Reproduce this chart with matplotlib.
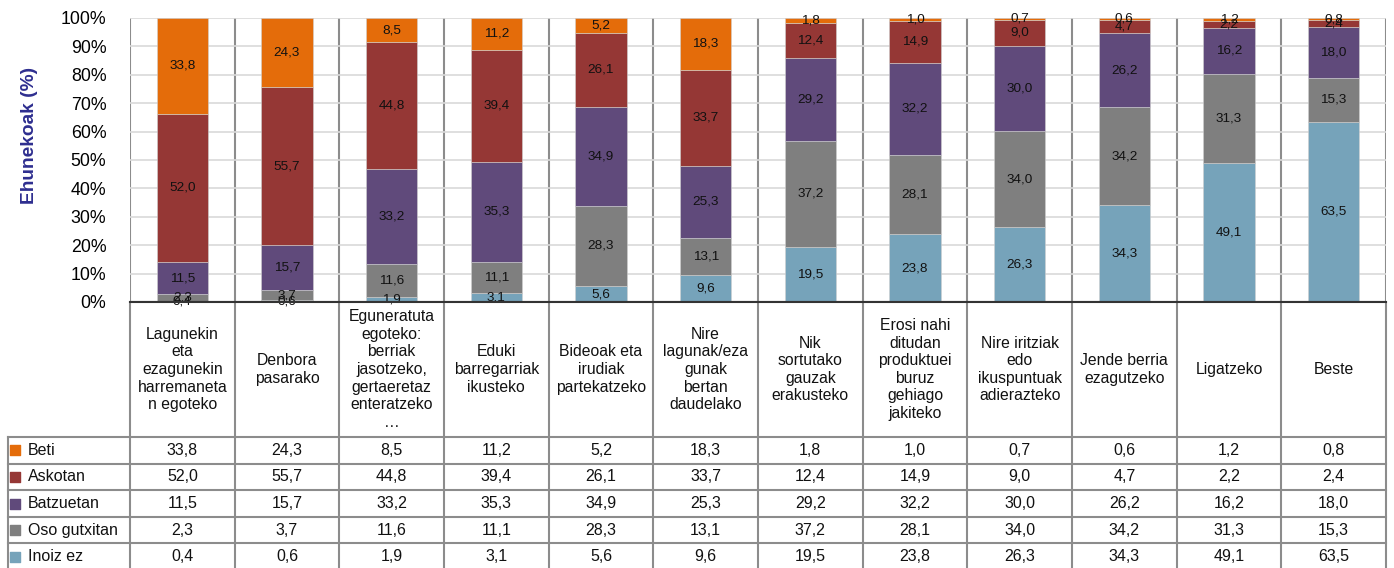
import matplotlib.pyplot as plt
import numpy as np

plt.rcParams['font.family'] = ['Liberation Sans', 'DejaVu Sans']

categories = [
    "Lagunekin\neta\nezagunekin\nharremaneta\nn egoteko",
    "Denbora\npasarako",
    "Eguneratuta\negoteko:\nberriak\njasotzeko,\ngertaeretaz\nenteratzeko\n…",
    "Eduki\nbarregarriak\nikusteko",
    "Bideoak eta\nirudiak\npartekatzeko",
    "Nire\nlagunak/eza\ngunak\nbertan\ndaudelako",
    "Nik\nsortutako\ngauzak\nerakusteko",
    "Erosi nahi\nditudan\nproduktuei\nburuz\ngehiago\njakiteko",
    "Nire iritziak\nedo\nikuspuntuak\nadierazteko",
    "Jende berria\nezagutzeko",
    "Ligatzeko",
    "Beste",
]

series_names = ["Beti", "Askotan", "Batzuetan", "Oso gutxitan", "Inoiz ez"]
beti = [33.8, 24.3, 8.5, 11.2, 5.2, 18.3, 1.8, 1.0, 0.7, 0.6, 1.2, 0.8]
askotan = [52.0, 55.7, 44.8, 39.4, 26.1, 33.7, 12.4, 14.9, 9.0, 4.7, 2.2, 2.4]
batzuetan = [11.5, 15.7, 33.2, 35.3, 34.9, 25.3, 29.2, 32.2, 30.0, 26.2, 16.2, 18.0]
oso_gutxitan = [2.3, 3.7, 11.6, 11.1, 28.3, 13.1, 37.2, 28.1, 34.0, 34.2, 31.3, 15.3]
inoiz_ez = [0.4, 0.6, 1.9, 3.1, 5.6, 9.6, 19.5, 23.8, 26.3, 34.3, 49.1, 63.5]

colors = ["#E46C0A", "#953735", "#604A7B", "#7F7F7F", "#76A3BA"]

W, H = 1394, 568
fig = plt.figure(figsize=(W / 100, H / 100), dpi=100)

# plot area in pixels
px0, px1 = 130, 1386
py_top, py_bot = 18, 302
ax = fig.add_axes([px0 / W, 1 - py_bot / H, (px1 - px0) / W, (py_bot - py_top) / H])

n = len(categories)
x = np.arange(n)
data = np.array([beti, askotan, batzuetan, oso_gutxitan, inoiz_ez])
total = data.sum(axis=0)
pct = data / total * 100

# stack from bottom (Inoiz ez) to top (Beti)
bottom = np.zeros(n)
for i in range(len(series_names) - 1, -1, -1):
    ax.bar(x, pct[i], width=0.49, bottom=bottom, color=colors[i],
           edgecolor='#d0d0d0', linewidth=0.4, zorder=3)
    for j in range(n):
        ax.text(x[j], bottom[j] + pct[i][j] / 2, f"{data[i][j]:.1f}".replace('.', ','),
                ha='center', va='center', fontsize=9.7, color='#111111', zorder=4)
    bottom += pct[i]

ax.set_xlim(-0.5, n - 0.5)
ax.set_ylim(0, 100)
ax.set_yticks(np.arange(0, 101, 10))
ax.set_yticklabels([f"{v}%" for v in range(0, 101, 10)], fontsize=12.8)
ax.set_xticks([])
ax.tick_params(axis='y', length=0, pad=17)
ax.grid(axis='y', color='#d9d9d9', linewidth=1.2, zorder=0)
for xe in np.arange(-0.5, n, 1.0):
    ax.axvline(xe, color='#8c8c8c', linewidth=1.5, zorder=1)
for s in ax.spines.values():
    s.set_visible(False)
ax.axhline(0, color='#333333', linewidth=1.5, zorder=5)
ax.set_ylabel("Ehunekoak (%)", fontsize=13.8, fontweight='bold', color='#2E2E8F')
ax.yaxis.set_label_coords(-0.0735, 0.585)

# data table below the plot
lx0 = 8
colw = (px1 - px0) / n
left_cols = (px0 - lx0) / colw
head_h = 135
row_h = 26.6
tab = fig.add_axes([lx0 / W, 0, (px1 - lx0) / W, (H - py_bot) / H])
tab.set_xlim(-0.5 - left_cols, n - 0.5)
tab.set_ylim(H - py_bot, 0)
tab.axis('off')

lc = '#8c8c8c'
# vertical lines
for xe in np.arange(-0.5, n, 1.0):
    tab.plot([xe, xe], [0, H - py_bot], color=lc, lw=1.5, clip_on=False)
tab.plot([-0.5 - left_cols] * 2, [head_h, H - py_bot], color=lc, lw=1.5, clip_on=False)
# horizontal lines
tab.plot([-0.5, n - 0.5], [0, 0], color='#333333', lw=1.5, clip_on=False)
for r in range(len(series_names) + 1):
    yy = head_h + r * row_h
    tab.plot([-0.5 - left_cols, n - 0.5], [yy, yy], color=lc, lw=1.5, clip_on=False)

for j, cat in enumerate(categories):
    tab.text(j, head_h / 2, cat, ha='center', va='center', fontsize=11.3,
             linespacing=1.22, color='#111111')

for i, name in enumerate(series_names):
    yc = head_h + (i + 0.5) * row_h
    tab.scatter([-0.5 - left_cols + 0.07], [yc], marker='s', s=45, color=colors[i], clip_on=False)
    tab.text(-0.5 - left_cols + 0.19, yc, name, ha='left', va='center', fontsize=11.5, color='#111111')
    for j in range(n):
        tab.text(j, yc, f"{data[i][j]:.1f}".replace('.', ','), ha='center', va='center',
                 fontsize=11.5, color='#111111')

fig.savefig("out.png", dpi=100)
